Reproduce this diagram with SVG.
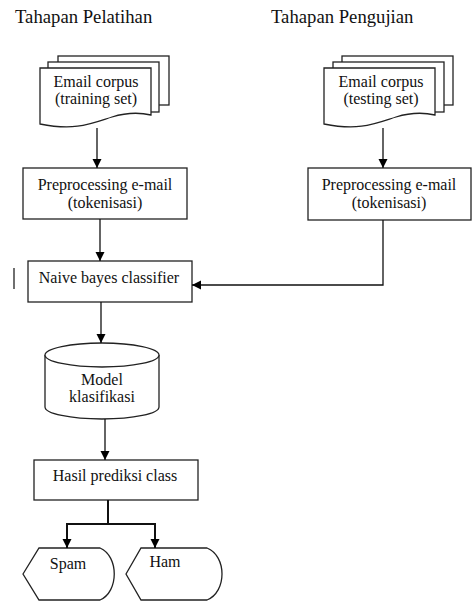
<svg xmlns="http://www.w3.org/2000/svg" width="472" height="603" viewBox="0 0 472 603">
<defs>
<marker id="ah" markerWidth="10" markerHeight="10" refX="9" refY="5" orient="auto" markerUnits="userSpaceOnUse">
<path d="M0,0.5 L9,5 L0,9.5 Z" fill="#000"/>
</marker>
<style>
.s{fill:#fff;stroke:#222;stroke-width:1.3}
.t{font-size:16px;fill:#111;text-anchor:middle}
.h{font-size:18.7px;fill:#111}
.c{fill:none;stroke:#111;stroke-width:1.3}
.c2{fill:none;stroke:#111;stroke-width:2}
</style>
</defs>
<rect width="472" height="603" fill="#fff"/>
<g font-family="Liberation Serif, DejaVu Serif, serif">
<text class="h" x="15" y="23">Tahapan Pelatihan</text>
<text class="h" x="271" y="23">Tahapan Pengujian</text>

<g id="doc-train">
<rect class="s" x="58" y="56" width="111" height="49"/>
<rect class="s" x="48" y="62" width="111" height="50"/>
<path class="s" d="M40,68 H151 V115 C138,112 125,113 112,117 C90,124 75,131 40,124 Z"/>
<text class="t" x="96" y="87">Email corpus</text>
<text class="t" x="96" y="104">(training set)</text>
</g>

<g id="doc-test">
<rect class="s" x="342" y="56" width="111" height="49"/>
<rect class="s" x="333" y="62" width="111" height="50"/>
<path class="s" d="M324,68 H435 V115 C422,112 409,113 396,117 C374,124 359,131 324,124 Z"/>
<text class="t" x="381" y="87">Email corpus</text>
<text class="t" x="381" y="104">(testing set)</text>
</g>

<g id="prep-train">
<rect class="s" x="23" y="168" width="164" height="51"/>
<text class="t" x="105" y="190">Preprocessing e-mail</text>
<text class="t" x="105" y="208">(tokenisasi)</text>
</g>

<g id="prep-test">
<rect class="s" x="308" y="168" width="163" height="52"/>
<text class="t" x="389" y="190">Preprocessing e-mail</text>
<text class="t" x="389" y="208">(tokenisasi)</text>
</g>

<g id="naive">
<rect class="s" x="28" y="261" width="164" height="41"/>
<text class="t" x="109" y="283">Naive bayes classifier</text>
</g>
<line x1="14" y1="268" x2="14" y2="289" stroke="#222" stroke-width="1.3"/>

<g id="model">
<path class="s" d="M45,355 V407 A57,12 0 0 0 159,407 V355"/>
<ellipse class="s" cx="102" cy="355" rx="57" ry="12"/>
<text class="t" x="102" y="385">Model</text>
<text class="t" x="102" y="402">klasifikasi</text>
</g>

<g id="hasil">
<rect class="s" x="34" y="460" width="164" height="40"/>
<text class="t" x="115" y="481">Hasil prediksi class</text>
</g>

<g id="spam">
<path class="s" d="M23,574 L39,548 H100 C119,556 119,592 100,600 H39 Z"/>
<text class="t" x="68" y="569">Spam</text>
</g>

<g id="ham">
<path class="s" d="M126,574 L141,548 H207 C227,556 227,592 207,600 H141 Z"/>
<text class="t" x="165" y="567">Ham</text>
</g>
</g>

<g id="connectors">
<line class="c" x1="97" y1="128" x2="97" y2="168" marker-end="url(#ah)"/>
<line class="c" x1="383" y1="128" x2="383" y2="168" marker-end="url(#ah)"/>
<line class="c" x1="100" y1="219" x2="100" y2="261" marker-end="url(#ah)"/>
<polyline class="c" points="383,220 383,285 192,285" marker-end="url(#ah)"/>
<line class="c" x1="101" y1="302" x2="101" y2="343" marker-end="url(#ah)"/>
<line class="c" x1="105" y1="419" x2="105" y2="460" marker-end="url(#ah)"/>
<polyline class="c2" points="108,500 108,524"/>
<polyline class="c2" points="67,524 155,524"/>
<line class="c2" x1="67" y1="523" x2="67" y2="548" marker-end="url(#ah)"/>
<line class="c2" x1="155" y1="523" x2="155" y2="548" marker-end="url(#ah)"/>
</g>
</svg>
